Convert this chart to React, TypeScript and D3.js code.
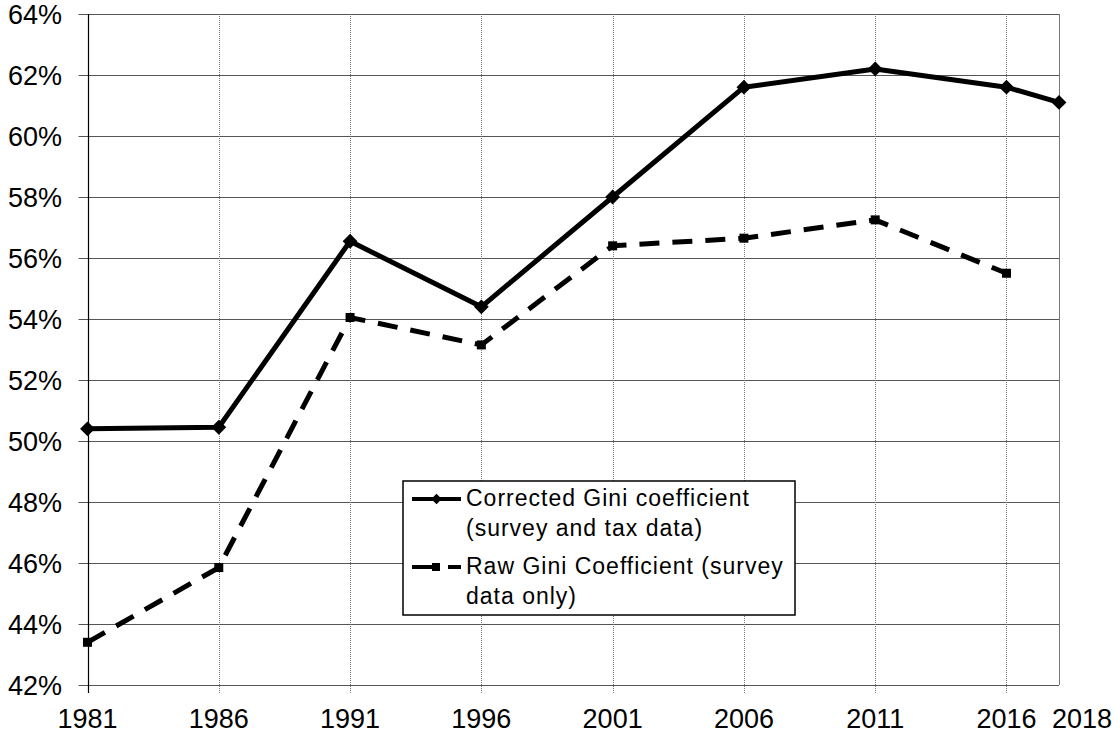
import React, { useEffect, useRef } from "react";
import * as d3 from "d3";

const years = [1981, 1986, 1991, 1996, 2001, 2006, 2011, 2016, 2018];
const correctedGini = [50.4, 50.45, 56.55, 54.4, 58.0, 61.6, 62.2, 61.6, 61.1];
const rawYears = [1981, 1986, 1991, 1996, 2001, 2006, 2011, 2016];
const rawGini = [43.4, 45.85, 54.05, 53.15, 56.4, 56.65, 57.25, 55.5];
const yTicks = [42, 44, 46, 48, 50, 52, 54, 56, 58, 60, 62, 64];
const legendLines = [
  ["Corrected Gini coefficient", "(survey and tax data)"],
  ["Raw Gini Coefficient (survey", "data only)"],
];

const width = 1115;
const height = 738;
const margin = { top: 14, right: 56, bottom: 53, left: 87.5 };
const font = "Arial, 'Liberation Sans', sans-serif";

export default function App() {
  const ref = useRef<SVGSVGElement>(null);

  useEffect(() => {
    drawChart();
  });

  function drawChart() {
    const svg = d3.select(ref.current);
    svg.selectAll("*").remove();

    const x = d3
      .scaleLinear()
      .domain([1981, 2018])
      .range([margin.left, width - margin.right]);
    const y = d3
      .scaleLinear()
      .domain([42, 64])
      .range([height - margin.bottom, margin.top]);

    const x0 = x(1981);
    const x1 = x(2018);
    const yb = y(42);
    const yt = y(64);

    // horizontal grid lines
    svg
      .selectAll(".hgrid")
      .data(yTicks)
      .enter()
      .append("line")
      .attr("x1", x0 - 9)
      .attr("x2", x1)
      .attr("y1", (d) => Math.round(y(d)) + 0.5)
      .attr("y2", (d) => Math.round(y(d)) + 0.5)
      .attr("stroke", "#555")
      .attr("stroke-width", 1);

    // vertical dotted grid lines
    svg
      .selectAll(".vgrid")
      .data(years.slice(1, -1))
      .enter()
      .append("line")
      .attr("x1", (d) => Math.round(x(d)) + 0.5)
      .attr("x2", (d) => Math.round(x(d)) + 0.5)
      .attr("y1", yt)
      .attr("y2", yb + 8)
      .attr("stroke", "#777")
      .attr("stroke-dasharray", "1,1")
      .attr("stroke-width", 1);

    // right border
    svg
      .append("line")
      .attr("x1", Math.round(x1) + 0.5)
      .attr("x2", Math.round(x1) + 0.5)
      .attr("y1", yt)
      .attr("y2", yb)
      .attr("stroke", "#777")
      .attr("stroke-width", 1);

    // left axis
    svg
      .append("line")
      .attr("x1", Math.round(x0) + 0.5)
      .attr("x2", Math.round(x0) + 0.5)
      .attr("y1", yt)
      .attr("y2", yb + 8)
      .attr("stroke", "#000")
      .attr("stroke-width", 1.2);

    // y labels
    svg
      .selectAll(".ylab")
      .data(yTicks)
      .enter()
      .append("text")
      .attr("x", 62)
      .attr("y", (d) => y(d))
      .attr("dy", "0.36em")
      .attr("text-anchor", "end")
      .style("font-family", font)
      .style("font-size", "27px")
      .text((d) => d + "%");

    // x labels
    svg
      .selectAll(".xlab")
      .data(years)
      .enter()
      .append("text")
      .attr("x", (d) => (d === 2018 ? width - 3 : x(d)))
      .attr("y", yb + 43)
      .attr("text-anchor", (d) => (d === 2018 ? "end" : "middle"))
      .style("font-family", font)
      .style("font-size", "27px")
      .text((d) => d);

    const line = d3
      .line<[number, number]>()
      .x((d) => x(d[0]))
      .y((d) => y(d[1]));

    const corrected: [number, number][] = years.map((yr, i) => [yr, correctedGini[i]]);
    const raw: [number, number][] = rawYears.map((yr, i) => [yr, rawGini[i]]);

    svg
      .append("path")
      .attr("d", line(raw))
      .attr("fill", "none")
      .attr("stroke", "#000")
      .attr("stroke-width", 5)
      .attr("stroke-dasharray", "20,13");

    svg
      .selectAll(".sq")
      .data(raw)
      .enter()
      .append("rect")
      .attr("x", (d) => x(d[0]) - 4.5)
      .attr("y", (d) => y(d[1]) - 4.5)
      .attr("width", 9)
      .attr("height", 9)
      .attr("fill", "#000");

    svg
      .append("path")
      .attr("d", line(corrected))
      .attr("fill", "none")
      .attr("stroke", "#000")
      .attr("stroke-width", 5)
      .attr("stroke-linejoin", "round");

    const diamond = d3.symbol().type(d3.symbolDiamond2).size(140);
    svg
      .selectAll(".dia")
      .data(corrected)
      .enter()
      .append("path")
      .attr("d", diamond)
      .attr("transform", (d) => `translate(${x(d[0])}, ${y(d[1])})`)
      .attr("fill", "#000");

    // legend
    const lg = svg.append("g");
    lg.append("rect")
      .attr("x", 403)
      .attr("y", 481)
      .attr("width", 392)
      .attr("height", 134)
      .attr("fill", "#fff")
      .attr("stroke", "#000")
      .attr("stroke-width", 1.5);

    const rowY = [499, 567];
    legendLines.forEach((lines, i) => {
      const ly = rowY[i];
      lg.append("line")
        .attr("x1", 412)
        .attr("x2", 461)
        .attr("y1", ly)
        .attr("y2", ly)
        .attr("stroke", "#000")
        .attr("stroke-width", 4)
        .attr("stroke-dasharray", i === 1 ? "28,8,13" : null);
      if (i === 0) {
        lg.append("path")
          .attr("d", d3.symbol().type(d3.symbolDiamond2).size(70)())
          .attr("transform", `translate(436.5, ${ly})`)
          .attr("fill", "#000");
      } else {
        lg.append("rect")
          .attr("x", 432)
          .attr("y", ly - 4)
          .attr("width", 8)
          .attr("height", 8)
          .attr("fill", "#000");
      }
      lines.forEach((t, j) => {
        lg.append("text")
          .attr("x", 466)
          .attr("y", ly + 7 + j * 30)
          .style("font-family", font)
          .style("font-size", "23px")
          .style("letter-spacing", "1px")
          .text(t);
      });
    });
  }

  return (
    <svg
      ref={ref}
      width={width}
      height={height}
      style={{ position: "absolute", left: 0, top: 0, background: "#fff" }}
    />
  );
}
